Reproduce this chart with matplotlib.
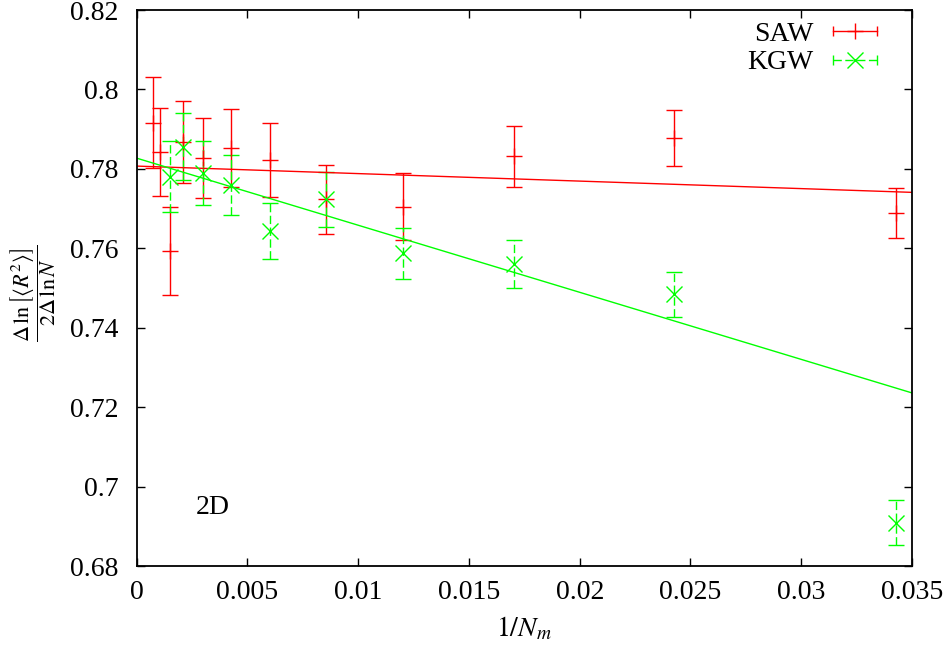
import matplotlib
matplotlib.use("Agg")
import matplotlib.pyplot as plt
import numpy as np
from matplotlib.lines import Line2D
from matplotlib.legend_handler import HandlerBase

plt.rcParams['font.family'] = ['Liberation Serif', 'DejaVu Serif']
plt.rcParams['mathtext.fontset'] = 'stix'

# 1/N_m and slope estimates, self-avoiding walk
saw_x = [0.000722, 0.00105, 0.0015, 0.0021, 0.00301, 0.00424, 0.00602,
         0.00853, 0.01204, 0.01703, 0.02427, 0.03426]
saw_y = [0.7916, 0.7843, 0.7593, 0.7868, 0.7828, 0.7852, 0.7822,
         0.7723, 0.7705, 0.7832, 0.7877, 0.7688]
saw_err = [0.0115, 0.0111, 0.0110, 0.0104, 0.0101, 0.0098, 0.0093,
           0.0088, 0.0084, 0.0077, 0.0070, 0.0063]

# kinetic growth walk
kgw_x = [0.0015, 0.0021, 0.00301, 0.00424, 0.00602, 0.00853, 0.01204,
         0.01703, 0.02427, 0.03426]
kgw_y = [0.7780, 0.7856, 0.7789, 0.7759, 0.7644, 0.7723, 0.7587,
         0.7561, 0.7484, 0.6909]
kgw_err = [0.0089, 0.0085, 0.0080, 0.0075, 0.0070, 0.0069, 0.0064,
           0.0060, 0.0056, 0.0056]

# linear fits: intercept, slope
saw_fit = [0.7807, -0.189]
kgw_fit = [0.7827, -1.689]

red = '#ff0000'
green = '#00ff00'
dash = (0, (6, 2.5))


class HandlerBarKey(HandlerBase):
    """gnuplot-like key: horizontal bar with end caps and the point marker."""
    def __init__(self, color, ls, marker):
        super().__init__()
        self.color, self.ls, self.marker = color, ls, marker

    def create_artists(self, legend, orig_handle, xdescent, ydescent,
                       width, height, fontsize, trans):
        x0, x1 = -xdescent, width - xdescent
        y = (height - ydescent) / 2
        bar = Line2D([x0, x1], [y, y], color=self.color, lw=1, linestyle=self.ls)
        caps = Line2D([x0, x1], [y, y], color=self.color, marker='|', ms=7,
                      mew=1, linestyle='none')
        mk = Line2D([(x0 + x1) / 2], [y], color=self.color, marker=self.marker,
                    ms=12, mew=1, linestyle='none')
        for a in (bar, caps, mk):
            a.set_transform(trans)
        return [bar, caps, mk]


fig = plt.figure(figsize=(9.49, 6.5), dpi=100)
ax = fig.add_axes([0.144, 0.1292, 0.817, 0.8554])

saw = ax.errorbar(saw_x, saw_y, yerr=saw_err, fmt='+', color=red, ms=12,
                  mew=1, elinewidth=1, capsize=5.5, capthick=1)
kgw = ax.errorbar(kgw_x, kgw_y, yerr=kgw_err, fmt='x', color=green, ms=12,
                  mew=1, elinewidth=1, capsize=5.5, capthick=1)
kgw[2][0].set_linestyle(dash)

xf = np.linspace(0, 0.035, 2)
ax.plot(xf, saw_fit[0] + saw_fit[1] * xf, color=red, lw=1)
ax.plot(xf, kgw_fit[0] + kgw_fit[1] * xf, color=green, lw=1)

ax.set_xlim(0, 0.035)
ax.set_ylim(0.68, 0.82)
ax.set_xticks(np.arange(0, 0.0351, 0.005))
ax.set_yticks(np.arange(0.68, 0.8201, 0.02))
ax.set_xticklabels(['0', '0.005', '0.01', '0.015', '0.02', '0.025', '0.03', '0.035'])
ax.set_yticklabels(['0.68', '0.7', '0.72', '0.74', '0.76', '0.78', '0.8', '0.82'])
ax.tick_params(direction='in', length=6, width=1, top=True, right=True,
               labelsize=20)
ax.tick_params(axis='x', pad=10)
ax.tick_params(axis='y', pad=13)
for s in ax.spines.values():
    s.set_linewidth(1.3)

ax.text(0.5, -0.112, r'$1/N_m$', transform=ax.transAxes, ha='center',
        va='center', fontsize=20)
ax.text(-0.134, 0.49,
        r'$\dfrac{\Delta\,\ln\left[\langle R^2\rangle\right]}{2\Delta\,\ln N}$',
        transform=ax.transAxes, ha='center', va='center', rotation=90,
        fontsize=16)
ax.text(0.00267, 0.6948, '2D', ha='left', va='center', fontsize=20)

ax.legend([saw, kgw], ['SAW', 'KGW'], loc='upper right',
          bbox_to_anchor=(0.955, 0.98), frameon=False, markerfirst=False,
          fontsize=20, handlelength=1.6, handletextpad=0.7, labelspacing=0.12,
          borderpad=0, borderaxespad=0,
          handler_map={saw: HandlerBarKey(red, '-', '+'),
                       kgw: HandlerBarKey(green, dash, 'x')})

fig.savefig('out.png', dpi=100)
